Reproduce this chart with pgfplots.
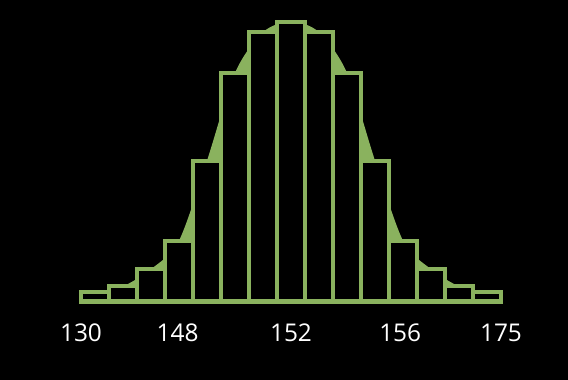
\documentclass[border=0pt]{standalone}
\usepackage{pgfplots}
\pgfplotsset{compat=1.18}
\usepackage{fontspec}
\setmainfont{Open Sans}
\definecolor{grn}{RGB}{138,178,94}
\begin{document}
\begin{tikzpicture}
\fill[black] (0,0) rectangle (568bp,380bp);
\useasboundingbox (0,0) rectangle (568bp,380bp);
\begin{axis}[
  at={(81bp,78.5bp)}, anchor=origin,
  scale only axis, width=420bp, height=300bp,
  xmin=0.5, xmax=15.5, ymin=0, ymax=300,
  axis line style={draw=none}, tick style={draw=none},
  ytick=\empty,
  xtick={0.5,3.95,8,11.9,15.5},
  xticklabels={130,148,152,156,175},
  xticklabel style={font=\fontsize{24.5}{30}\selectfont, text=white, anchor=north, inner sep=0pt, yshift=-22bp},
  /pgf/number format/assume math mode=true,
  clip=false,
]
\addplot[smooth, draw=none, fill=grn] coordinates {
(1,9.5) (2,15.3) (3,32.3) (4,60.9) (5,140.9) (6,228.6) (7,269.3) (8,279.9)
(9,269.3) (10,228.6) (11,140.9) (12,60.9) (13,32.3) (14,15.3) (15,9.5)} \closedcycle;
\addplot[ybar, bar width=28bp, fill=black, draw=grn, line width=4.1bp] coordinates {
(1,9.5) (2,15.3) (3,32.3) (4,60.9) (5,140.9) (6,228.6) (7,269.3) (8,279.9)
(9,269.3) (10,228.6) (11,140.9) (12,60.9) (13,32.3) (14,15.3) (15,9.5)};
\end{axis}
\end{tikzpicture}
\end{document}
